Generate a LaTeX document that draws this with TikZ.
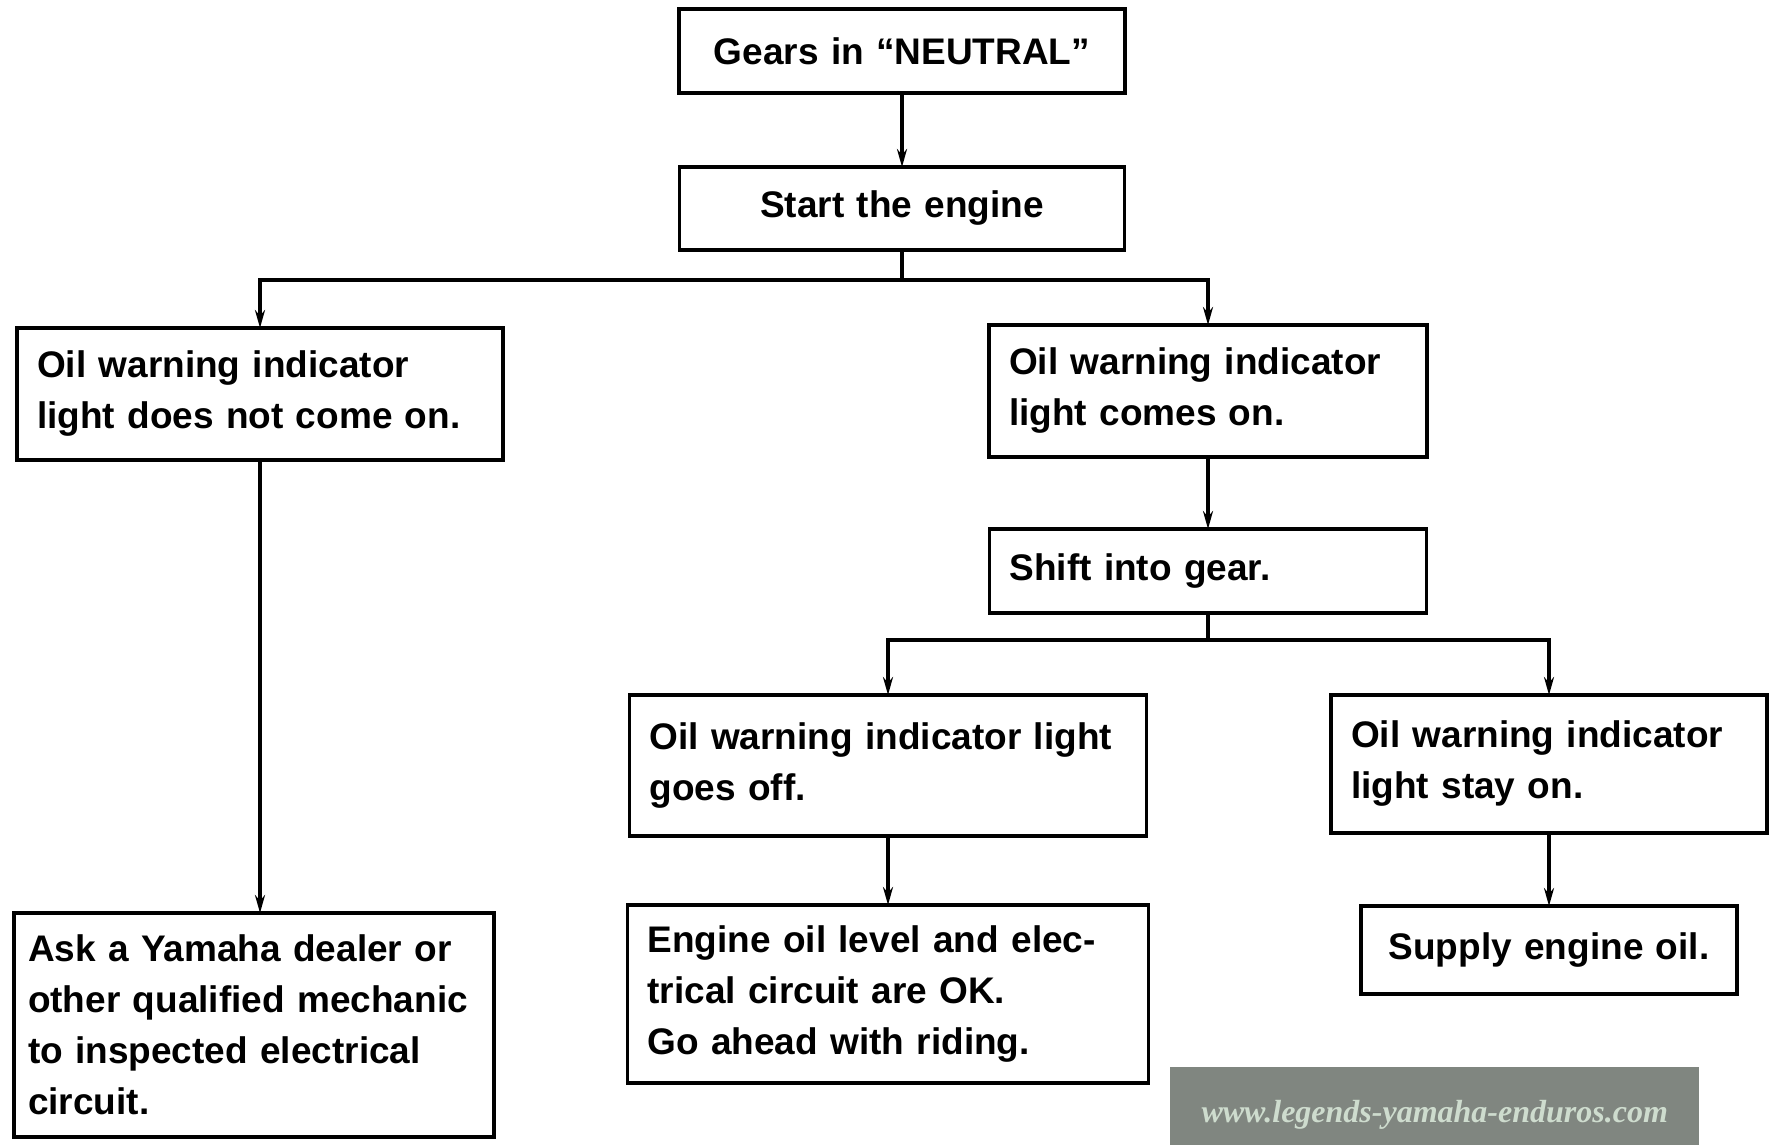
\documentclass[tikz,border=0pt]{standalone}
\usepackage{fontspec}
\setmainfont{Liberation Sans}
\newfontfamily\wmfont{Liberation Serif}
\usetikzlibrary{positioning,arrows.meta}

\definecolor{wmgray}{RGB}{128,134,128}
\definecolor{wmtext}{RGB}{206,220,206}

\tikzset{
  box/.style={draw, line width=3.5pt, outer sep=0pt, inner xsep=20pt, inner ysep=4pt,
    align=left, font=\bfseries\fontsize{37}{51}\selectfont},
  cbox/.style={box, align=center},
  arr/.style={line width=3.2pt, -{Stealth[length=18pt,width=10pt]}},
  link/.style={line width=3.2pt}
}

\begin{document}
\begin{tikzpicture}
  \useasboundingbox (0,0) rectangle (1769pt,-1144pt);

  %Define nodes
  \node[cbox, text width=406pt, minimum height=84pt] (gears) at (902pt,-51pt) {Gears in ``NEUTRAL''};
  \node[cbox, text width=405pt, minimum height=83pt, below=74pt of gears] (start) {Start the engine};

  \node[box, text width=446pt, minimum height=132pt, below=78pt of start, xshift=-642pt] (nocome)
    {Oil warning indicator\\light does not come on.};
  \node[box, text width=398pt, minimum height=132pt, below=75pt of start, xshift=306pt] (comeson)
    {Oil warning indicator\\light comes on.};
  \node[box, text width=397pt, minimum height=84pt, below=72pt of comeson] (shift) {Shift into gear.};

  \node[box, text width=477pt, minimum height=141pt, below=82pt of shift, xshift=-320pt] (goesoff)
    {Oil warning indicator light\\goes off.};
  \node[box, text width=396pt, minimum height=138pt, below=82pt of shift, xshift=341pt] (stayon)
    {Oil warning indicator\\light stay on.};

  \node[box, text width=481pt, minimum height=178pt, below=69pt of goesoff] (engine)
    {Engine oil level and elec-\\trical circuit are OK.\\Go ahead with riding.};
  \node[cbox, text width=336pt, minimum height=88pt, below=73pt of stayon] (supply) {Supply engine oil.};
  \node[box, inner xsep=14pt, text width=452pt, minimum height=224pt, below=453pt of nocome, xshift=-6pt] (ask)
    {Ask a Yamaha dealer or\\other qualified mechanic\\to inspected electrical\\circuit.};

  \node[fill=wmgray, anchor=north west, minimum width=529pt, minimum height=96pt, inner sep=0pt,
    text=wmtext, font=\wmfont\bfseries\itshape\fontsize{32}{32}\selectfont] (watermark)
    at (1170pt,-1067pt) {www.legends-yamaha-enduros.com};

  % Connect the nodes
  \draw[arr] (gears) -- (start);
  \draw[link] (start.south) -- ++(0,-30pt) coordinate (split1);
  \draw[arr] (split1) -| (nocome.north);
  \draw[arr] (split1) -| (comeson.north);
  \draw[arr] (nocome) -- (nocome |- ask.north);
  \draw[arr] (comeson) -- (shift);
  \draw[link] (shift.south) -- ++(0,-27pt) coordinate (split2);
  \draw[arr] (split2) -| (goesoff.north);
  \draw[arr] (split2) -| (stayon.north);
  \draw[arr] (goesoff) -- (engine);
  \draw[arr] (stayon) -- (supply);

\end{tikzpicture}
\end{document}
